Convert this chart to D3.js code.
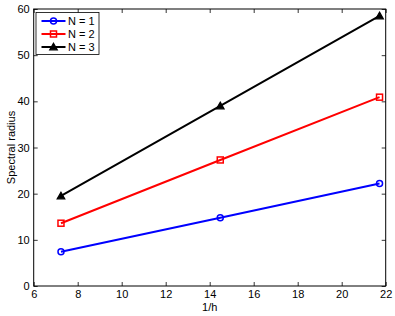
<!DOCTYPE html>
<html><head><meta charset="utf-8">
<script src="https://cdn.jsdelivr.net/npm/d3@7"></script>
<style>body{margin:0;background:#fff}svg{display:block}text{font-family:"Liberation Sans",Arial,sans-serif}</style>
</head><body>
<script>
const xValues = [7.24, 14.48, 21.72];
const n1 = [7.4, 14.8, 22.2];
const n2 = [13.6, 27.3, 40.9];
const n3 = [19.5, 39.0, 58.5];
const seriesNames = ["N = 1", "N = 2", "N = 3"];
const seriesColors = ["#0000ff", "#ff0000", "#000000"];
const seriesMarkers = ["circle", "square", "triangle"];
const xTicks = [6, 8, 10, 12, 14, 16, 18, 20, 22];
const yTicks = [0, 10, 20, 30, 40, 50, 60];

const W = 395, H = 316;
const m = {l: 33.7, r: 385.7, t: 9, b: 286};
const svg = d3.select("body").append("svg").attr("width", W).attr("height", H);
const x = d3.scaleLinear().domain([6, 22]).range([m.l, m.r]);
const y = d3.scaleLinear().domain([0, 60]).range([m.b, m.t]);

// frame
svg.append("rect").attr("x", m.l).attr("y", m.t).attr("width", m.r - m.l).attr("height", m.b - m.t)
  .attr("fill", "none").attr("stroke", "#000").attr("stroke-width", 1);

const tl = 4;
const fs = "11px";
const xb = svg.append("g").attr("transform", `translate(0,${m.b})`)
  .call(d3.axisBottom(x).tickValues(xTicks).tickSizeInner(-tl).tickSizeOuter(0).tickPadding(4));
const xt = svg.append("g").attr("transform", `translate(0,${m.t})`)
  .call(d3.axisTop(x).tickValues(xTicks).tickSizeInner(-tl).tickSizeOuter(0).tickFormat(""));
const yl = svg.append("g").attr("transform", `translate(${m.l},0)`)
  .call(d3.axisLeft(y).tickValues(yTicks).tickSizeInner(-tl).tickSizeOuter(0).tickPadding(4));
const yr = svg.append("g").attr("transform", `translate(${m.r},0)`)
  .call(d3.axisRight(y).tickValues(yTicks).tickSizeInner(-tl).tickSizeOuter(0).tickFormat(""));
[xb, xt, yl, yr].forEach(g => {
  g.select(".domain").remove();
  g.selectAll("line").attr("stroke", "#000").attr("stroke-width", 0.8);
  g.selectAll("text").attr("font-size", fs).attr("fill", "#000").style("font-family", '"Liberation Sans",Arial,sans-serif');
});
xb.selectAll("text").attr("dy", "0.71em");

// labels
svg.append("text").attr("x", (m.l + m.r) / 2).attr("y", 311).attr("text-anchor", "middle")
  .attr("font-size", fs).text("1/h");
svg.append("text").attr("transform", `translate(15,${(m.t + m.b) / 2}) rotate(-90)`)
  .attr("text-anchor", "middle").attr("font-size", fs).text("Spectral radius");

const data = [n1, n2, n3];
const line = d3.line().x((d, i) => x(xValues[i])).y(d => y(d));

function marker(g, type, cx, cy, color) {
  if (type === "circle") {
    g.append("circle").attr("cx", cx).attr("cy", cy).attr("r", 3)
      .attr("fill", "none").attr("stroke", color).attr("stroke-width", 1.5);
  } else if (type === "square") {
    g.append("rect").attr("x", cx - 3).attr("y", cy - 3).attr("width", 6).attr("height", 6)
      .attr("fill", "none").attr("stroke", color).attr("stroke-width", 1.5);
  } else {
    const s = 3.8;
    g.append("path").attr("d", `M${cx},${cy - s}L${cx + s},${cy + s * 0.75}L${cx - s},${cy + s * 0.75}Z`)
      .attr("fill", color).attr("stroke", color).attr("stroke-width", 1.2);
  }
}

data.forEach((vals, k) => {
  const g = svg.append("g");
  g.append("path").datum(vals).attr("d", line).attr("fill", "none")
    .attr("stroke", seriesColors[k]).attr("stroke-width", 2);
  vals.forEach((v, i) => marker(g, seriesMarkers[k], x(xValues[i]), y(v), seriesColors[k]));
});

// legend
const lg = svg.append("g");
lg.append("rect").attr("x", 36).attr("y", 12.5).attr("width", 63).attr("height", 42)
  .attr("fill", "#fff").attr("stroke", "#000").attr("stroke-width", 0.8);
seriesNames.forEach((name, k) => {
  const yy = 21 + k * 13;
  lg.append("line").attr("x1", 41.5).attr("x2", 65.5).attr("y1", yy).attr("y2", yy)
    .attr("stroke", seriesColors[k]).attr("stroke-width", 2);
  marker(lg, seriesMarkers[k], 53.5, yy, seriesColors[k]);
  lg.append("text").attr("x", 68).attr("y", yy).attr("dy", "0.35em").attr("font-size", fs).text(name);
});
</script>
</body></html>
